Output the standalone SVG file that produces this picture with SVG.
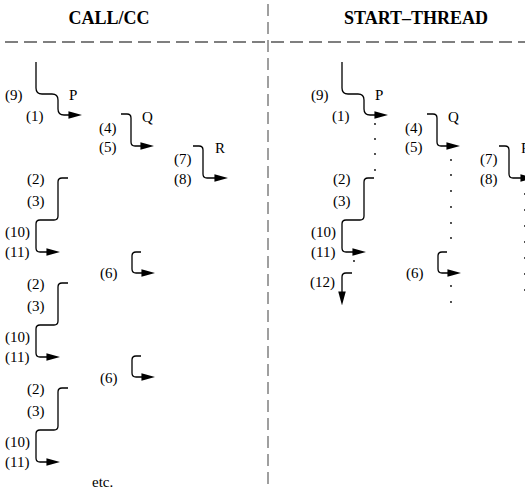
<svg xmlns="http://www.w3.org/2000/svg" width="525" height="496" viewBox="0 0 525 496">
<style>
.t{font-family:"Liberation Serif","Times New Roman",serif;font-size:15px;fill:#000}
.h{font-family:"Liberation Serif","Times New Roman",serif;font-size:18px;font-weight:bold;fill:#000}
.c{fill:none;stroke:#000;stroke-width:1.3;marker-end:url(#ah)}
.d{fill:#000}
</style>
<defs>
<marker id="ah" markerUnits="userSpaceOnUse" markerWidth="14" markerHeight="8" refX="7" refY="3.5" orient="auto" viewBox="0 0 13 7">
<path d="M0,0 L13,3.5 L0,7 z" fill="#000"/>
</marker>
</defs>
<rect width="525" height="496" fill="#fff"/>
<g id="frame">
<text class="h" x="109" y="24" text-anchor="middle">CALL/CC</text>
<text class="h" x="416" y="24" text-anchor="middle">START–THREAD</text>
<line x1="5" y1="42" x2="525" y2="42" stroke="#000" stroke-width="1.2" stroke-dasharray="13,6"/>
<line x1="268" y1="4" x2="268" y2="484" stroke="#808080" stroke-width="1.5" stroke-dasharray="12,6"/>
</g>
<g id="connectors">
<!-- left -->
<path class="c" d="M36,62 L36,88 Q36,94 42,94 L52,94 Q58,94 58,100 L58,109 Q58,115 64,115 L76,115"/>
<path class="c" d="M121,114 L127,114 Q131,114 131,118 L131,142 Q131,146 135,146 L148,146"/>
<path class="c" d="M193,146 L199,146 Q203,146 203,150 L203,174 Q203,178 207,178 L222,178"/>
<path class="c" d="M68,178 L62,178 Q58,178 58,182 L58,216 Q58,220 54,220 L40,220 Q36,220 36,224 L36,248 Q36,252 40,252 L54,252"/>
<path class="c" d="M68,283 L62,283 Q58,283 58,287 L58,321 Q58,325 54,325 L40,325 Q36,325 36,329 L36,353 Q36,357 40,357 L54,357"/>
<path class="c" d="M68,388 L62,388 Q58,388 58,392 L58,426 Q58,430 54,430 L40,430 Q36,430 36,434 L36,458 Q36,462 40,462 L54,462"/>
<path class="c" d="M141,252 L136,252 Q132,252 132,256 L132,269 Q132,273 136,273 L149,273"/>
<path class="c" d="M141,356 L136,356 Q132,356 132,360 L132,373 Q132,377 136,377 L149,377"/>
<!-- right -->
<path class="c" d="M342,62 L342,88 Q342,94 348,94 L358,94 Q364,94 364,100 L364,109 Q364,115 370,115 L382,115"/>
<path class="c" d="M427,114 L433,114 Q437,114 437,118 L437,142 Q437,146 441,146 L454,146"/>
<path class="c" d="M499,146 L505,146 Q509,146 509,150 L509,174 Q509,178 513,178 L528,178"/>
<path class="c" d="M374,178 L368,178 Q364,178 364,182 L364,216 Q364,220 360,220 L346,220 Q342,220 342,224 L342,248 Q342,252 346,252 L360,252"/>
<path class="c" d="M447,252 L442,252 Q438,252 438,256 L438,269 Q438,273 442,273 L455,273"/>
<path class="c" d="M352,273 L346,273 Q342,273 342,277 L342,299"/>
<!-- dots -->
<g class="d">
<circle cx="375" cy="124" r="0.9"/><circle cx="375" cy="139" r="0.9"/><circle cx="375" cy="154" r="0.9"/><circle cx="375" cy="170" r="0.9"/>
<circle cx="451" cy="160" r="0.9"/><circle cx="451" cy="175" r="0.9"/><circle cx="451" cy="191" r="0.9"/><circle cx="451" cy="207" r="0.9"/><circle cx="451" cy="223" r="0.9"/><circle cx="451" cy="238" r="0.9"/>
<circle cx="451" cy="286" r="0.9"/><circle cx="451" cy="302" r="0.9"/>
<circle cx="354" cy="261" r="0.9"/>
<circle cx="525" cy="194" r="0.9"/><circle cx="525" cy="210" r="0.9"/><circle cx="525" cy="226" r="0.9"/><circle cx="525" cy="242" r="0.9"/><circle cx="525" cy="258" r="0.9"/><circle cx="525" cy="274" r="0.9"/><circle cx="525" cy="290" r="0.9"/>
</g>
</g>
<g id="call-cc">
<text class="t" x="5" y="100">(9)</text>
<text class="t" x="26" y="121">(1)</text>
<text class="t" x="69" y="100">P</text>
<text class="t" x="99" y="133">(4)</text>
<text class="t" x="99" y="152">(5)</text>
<text class="t" x="142" y="122">Q</text>
<text class="t" x="174" y="164">(7)</text>
<text class="t" x="174" y="184">(8)</text>
<text class="t" x="215" y="153">R</text>
<text class="t" x="27" y="184">(2)</text>
<text class="t" x="27" y="206">(3)</text>
<text class="t" x="5" y="237">(10)</text>
<text class="t" x="5" y="257">(11)</text>
<text class="t" x="100" y="278">(6)</text>
<text class="t" x="27" y="289">(2)</text>
<text class="t" x="27" y="311">(3)</text>
<text class="t" x="5" y="342">(10)</text>
<text class="t" x="5" y="362">(11)</text>
<text class="t" x="100" y="383">(6)</text>
<text class="t" x="27" y="394">(2)</text>
<text class="t" x="27" y="416">(3)</text>
<text class="t" x="5" y="447">(10)</text>
<text class="t" x="5" y="467">(11)</text>
<text class="t" x="92" y="487">etc.</text>
</g>
<g id="start-thread">
<text class="t" x="311" y="100">(9)</text>
<text class="t" x="332" y="121">(1)</text>
<text class="t" x="375" y="100">P</text>
<text class="t" x="405" y="133">(4)</text>
<text class="t" x="405" y="152">(5)</text>
<text class="t" x="448" y="122">Q</text>
<text class="t" x="480" y="164">(7)</text>
<text class="t" x="480" y="184">(8)</text>
<text class="t" x="521" y="153">R</text>
<text class="t" x="333" y="184">(2)</text>
<text class="t" x="333" y="206">(3)</text>
<text class="t" x="311" y="237">(10)</text>
<text class="t" x="311" y="257">(11)</text>
<text class="t" x="406" y="278">(6)</text>
<text class="t" x="310" y="287">(12)</text>
</g>
</svg>
